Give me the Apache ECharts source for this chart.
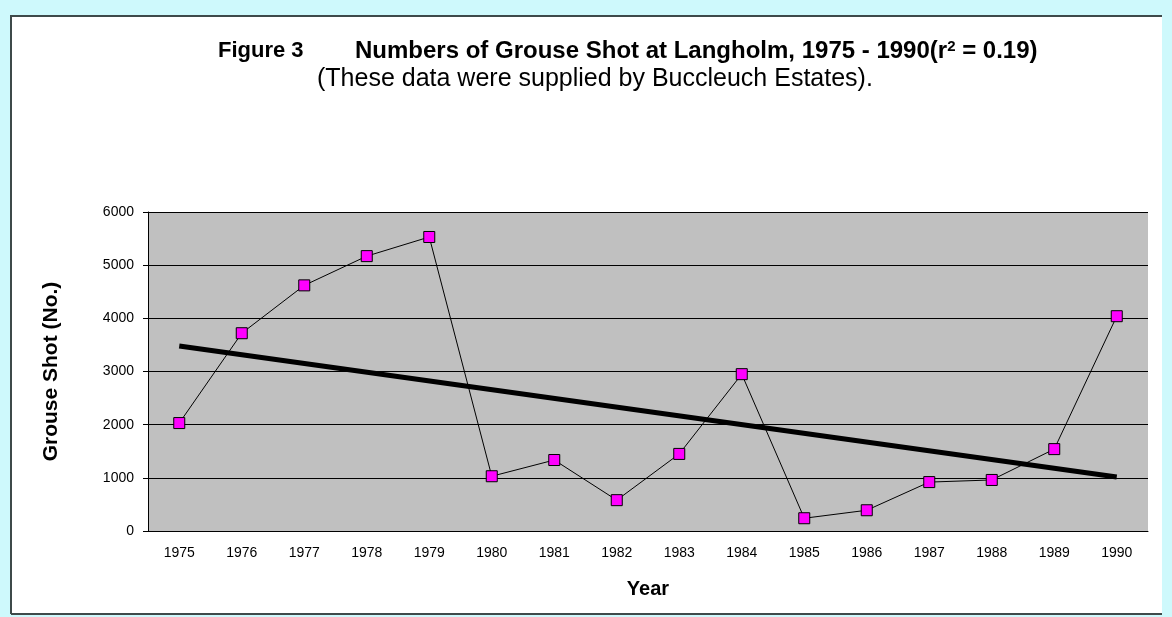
<!DOCTYPE html>
<html>
<head>
<meta charset="utf-8">
<title>Grouse Shot at Langholm</title>
<script src="https://cdn.jsdelivr.net/npm/echarts@6/dist/echarts.min.js"></script>
<style>
    html, body { margin: 0; padding: 0; background: #cef9fc; }
    #chart { width: 1172px; height: 617px; }
</style>
</head>
<body>
<div id="chart"></div>
<script>
// years on the x axis
var years = ['1975', '1976', '1977', '1978', '1979', '1980', '1981', '1982',
             '1983', '1984', '1985', '1986', '1987', '1988', '1989', '1990'];
// grouse shot each year
var grouseShot = [2030, 3720, 4620, 5170, 5530, 1030, 1335, 580,
                  1450, 2950, 240, 390, 920, 960, 1540, 4040];
// linear trend, two ends
var trendYears = ['1975', '1990'];
var trendValues = [3480, 1015];

var font = 'Arial, "Liberation Sans", sans-serif';
var chart = echarts.init(document.getElementById('chart'));

var trendData = [];
for (var i = 0; i < trendYears.length; i++) {
    trendData.push([trendYears[i], trendValues[i]]);
}

var option = {
    backgroundColor: '#cef9fc',
    animation: false,
    graphic: [
        {
            type: 'rect',
            z: -10,
            shape: { x: 11, y: 16, width: 1151, height: 598 },
            style: { fill: '#ffffff', stroke: null }
        },
        {
            type: 'polyline',
            z: -9,
            shape: { points: [[11, 614], [11, 16], [1162, 16]] },
            style: { stroke: '#3e4a4a', lineWidth: 2, fill: null }
        },
        {
            type: 'line',
            z: -9,
            shape: { x1: 11, y1: 614, x2: 1162, y2: 614 },
            style: { stroke: '#3e4a4a', lineWidth: 2 }
        }
    ],
    title: [
        {
            text: 'Figure 3',
            left: 218,
            top: 40,
            padding: 0,
            textStyle: { fontFamily: font, fontWeight: 'bold', fontSize: 22, color: '#000' }
        },
        {
            text: 'Numbers of Grouse Shot at Langholm, 1975 - 1990(r{sup|2} = 0.19)',
            left: 355,
            top: 39,
            padding: 0,
            textStyle: {
                fontFamily: font, fontWeight: 'bold', fontSize: 24, color: '#000',
                rich: {
                    sup: { fontFamily: font, fontWeight: 'bold', fontSize: 15, verticalAlign: 'top', padding: [0, 0, 10, 0], color: '#000' }
                }
            }
        },
        {
            text: '(These data were supplied by Buccleuch Estates).',
            left: 317,
            top: 67,
            padding: 0,
            textStyle: { fontFamily: font, fontWeight: 'normal', fontSize: 25, color: '#000' }
        }
    ],
    grid: {
        left: 148,
        right: 24,
        top: 212,
        bottom: 86,
        show: true,
        backgroundColor: '#c0c0c0',
        borderWidth: 0
    },
    xAxis: {
        type: 'category',
        data: years,
        boundaryGap: true,
        name: 'Year',
        nameLocation: 'middle',
        nameGap: 48,
        nameTextStyle: { fontFamily: font, fontWeight: 'bold', fontSize: 20, color: '#000' },
        axisLine: { lineStyle: { color: '#000', width: 1 } },
        axisTick: { alignWithLabel: false, length: 5, lineStyle: { color: '#000' } },
        axisLabel: { fontFamily: font, fontSize: 14, color: '#000', margin: 15, interval: 0 }
    },
    yAxis: {
        type: 'value',
        min: 0,
        max: 6000,
        interval: 1000,
        name: 'Grouse Shot (No.)',
        nameLocation: 'middle',
        nameGap: 86,
        nameTextStyle: { fontFamily: font, fontWeight: 'bold', fontSize: 21, color: '#000' },
        axisLine: { show: true, lineStyle: { color: '#000', width: 1 } },
        axisTick: { show: true, length: 5, lineStyle: { color: '#000' } },
        axisLabel: {
            fontFamily: font, fontSize: 14, color: '#000', margin: 14,
            formatter: function (v) { return String(v); }
        },
        splitLine: { show: true, lineStyle: { color: '#000', width: 1 } }
    },
    series: [
        {
            name: 'Grouse Shot',
            type: 'line',
            data: grouseShot,
            symbol: 'rect',
            symbolSize: 11,
            lineStyle: { color: '#000', width: 1 },
            itemStyle: { color: '#ff00ff', borderColor: '#000', borderWidth: 1 },
            z: 3
        },
        {
            name: 'Trend',
            type: 'line',
            data: trendData,
            symbol: 'none',
            lineStyle: { color: '#000', width: 5 },
            z: 4
        }
    ]
};
chart.setOption(option);
</script>
</body>
</html>
